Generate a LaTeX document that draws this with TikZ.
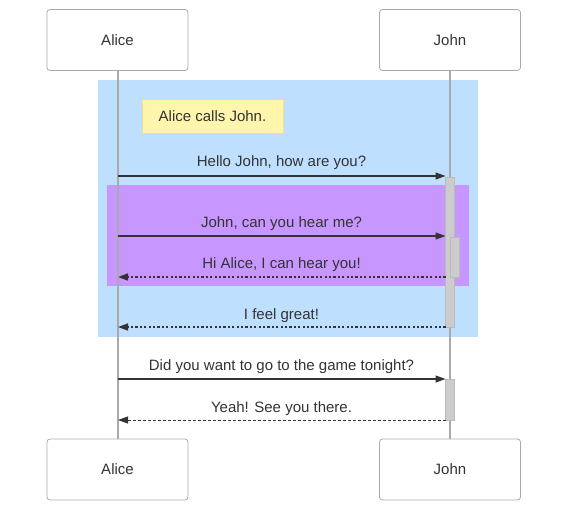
\documentclass[tikz,border=0pt]{standalone}
\usepackage{fontspec}
\setmainfont{Liberation Sans}
\usetikzlibrary{arrows.meta}
\definecolor{txt}{HTML}{333333}
\definecolor{life}{HTML}{AAAAAA}
\definecolor{boxline}{HTML}{AAAAAA}
\definecolor{blueblk}{RGB}{191,223,255}
\definecolor{purpblk}{RGB}{200,150,255}
\definecolor{notefill}{HTML}{FFF5AD}
\definecolor{noteline}{HTML}{F0E08A}
\definecolor{actfill}{HTML}{CCCCCC}
\definecolor{actline}{HTML}{BBBBBB}
\tikzset{
  actor/.style={draw=boxline, line width=0.8pt, fill=white, rounded corners=3pt,
    minimum width=141pt, minimum height=61pt, inner sep=0pt, font=\fontsize{15pt}{17pt}\selectfont, text=txt},
  lifeline/.style={draw=life, line width=1.5pt},
  actbar/.style={draw=actline, fill=actfill, line width=0.8pt, inner sep=0pt, minimum width=9pt},
  msg/.style={draw=txt, line width=1.2pt, -{Triangle[length=10pt,width=7pt]}},
  retdot/.style={draw=txt, line width=1.6pt, dash pattern=on 2.2pt off 2.2pt, -{Triangle[length=10pt,width=7pt]}},
  retdash/.style={draw=txt, line width=0.8pt, dash pattern=on 3pt off 2pt, -{Triangle[length=10pt,width=7pt,line width=0.8pt]}},
  lbl/.style={font=\fontsize{15pt}{17pt}\selectfont, text=txt, inner sep=0pt},
  notebox/.style={draw=noteline, fill=notefill, line width=0.8pt, minimum width=141pt, minimum height=34pt,
    inner sep=0pt, font=\fontsize{15pt}{17pt}\selectfont, text=txt}
}
\begin{document}
\begin{tikzpicture}[x=1pt,y=-1pt]
\useasboundingbox (0,0) rectangle (569,512);
% blocks
\fill[blueblk] (98,80) rectangle (478,337);
\fill[purpblk] (107,185) rectangle (469,286);
% lifelines
\coordinate (aTop) at (118,70);
\coordinate (aBot) at (118,439);
\coordinate (jTop) at (450,70);
\coordinate (jBot) at (450,439);
\draw[lifeline] (aTop) -- (aBot);
\draw[lifeline] (jTop) -- (jBot);
% actors
\node[actor] (aliceT) at (117.5,40) {Alice};
\node[actor] (johnT) at (450,40) {John};
\node[actor] (aliceB) at (117.5,469.5) {Alice};
\node[actor] (johnB) at (450,469.5) {John};
% note
\node[notebox] (note) at (212.5,116) {Alice calls John.};
% activations
\node[actbar, minimum height=150pt] (act1) at (450.2,252) {};
\node[actbar, minimum height=40pt] (act2) at (455.2,257) {};
\node[actbar, minimum height=41pt] (act3) at (450.2,399.5) {};
% message endpoints
\coordinate (m1a) at (118,176); \coordinate (m1b) at (445.5,176);
\coordinate (m2a) at (118,236); \coordinate (m2b) at (445.5,236);
\coordinate (m3a) at (445.5,277); \coordinate (m3b) at (118,277);
\coordinate (m4a) at (445.5,327); \coordinate (m4b) at (118,327);
\coordinate (m5a) at (118,379); \coordinate (m5b) at (445.5,379);
\coordinate (m6a) at (445.5,420); \coordinate (m6b) at (118,420);
\draw[msg] (m1a) -- (m1b);
\draw[msg] (m2a) -- (m2b);
\draw[retdot] (m3a) -- (m3b);
\draw[retdot] (m4a) -- (m4b);
\draw[msg] (m5a) -- (m5b);
\draw[retdash] (m6a) -- (m6b);
% labels
\node[lbl] (l1) at (281.5,162.5) {Hello John, how are you?};
\node[lbl] (l2) at (281.5,223.5) {John, can you hear me?};
\node[lbl] (l3) at (281.5,264.5) {Hi Alice, I can hear you!};
\node[lbl] (l4) at (281.5,315.5) {I feel great!};
\node[lbl] (l5) at (281.5,366.5) {Did you want to go to the game tonight?};
\node[lbl] (l6) at (281.5,408.5) {Yeah! See you there.};
\end{tikzpicture}
\end{document}
